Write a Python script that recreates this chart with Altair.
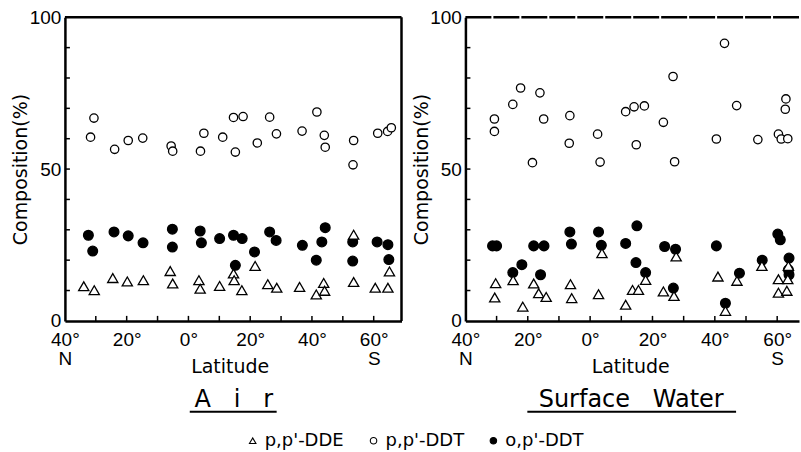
import altair as alt
import pandas as pd

compounds = ["p,p'-DDE", "p,p'-DDT", "o,p'-DDT"]
shapes = ["triangle-up", "circle", "circle"]
fills = ["white", "white", "black"]

# ---- Air ----
air_ddt_lat = [-31.7, -30.6, -23.9, -19.5, -14.8, -5.6, -5.1, 3.9, 5.0, 11.1, 14.6, 15.2, 17.7,
               22.3, 26.3, 28.5, 36.8, 41.6, 44.0, 44.3, 53.5, 53.3, 61.3, 64.5, 65.7]
air_ddt_val = [60.5, 66.8, 56.5, 59.4, 60.2, 57.6, 55.9, 55.9, 61.8, 60.5, 67.0, 55.6, 67.3,
               58.6, 67.1, 61.6, 62.5, 68.8, 61.1, 57.2, 59.4, 51.4, 61.8, 62.4, 63.6]
air_opddt_lat = [-32.4, -31.0, -24.1, -19.5, -14.7, -5.2, -5.2, 3.8, 4.2, 10.1, 14.6, 17.4, 15.2,
                 21.4, 26.3, 28.4, 36.9, 41.4, 43.2, 44.3, 53.2, 53.2, 61.1, 64.6, 64.9]
air_opddt_val = [28.2, 23.0, 29.3, 28.0, 25.7, 30.2, 24.3, 29.6, 25.7, 27.1, 28.2, 27.1, 18.3,
                 22.7, 29.3, 26.5, 24.9, 20.0, 26.0, 30.7, 26.0, 19.7, 26.0, 25.1, 20.2]
air_dde_lat = [-33.9, -30.5, -24.5, -19.8, -14.6, -5.9, -5.1, 3.4, 3.8, 10.1, 14.6, 14.8, 17.3,
               21.6, 25.7, 28.6, 36.0, 41.4, 43.8, 44.1, 53.5, 53.5, 60.5, 64.6, 65.1]
air_dde_val = [11.4, 10.1, 14.1, 13.0, 13.4, 16.4, 12.3, 13.4, 10.6, 11.5, 15.6, 13.4, 10.1,
               18.1, 12.1, 10.9, 11.2, 8.7, 12.5, 9.9, 28.4, 12.8, 10.9, 10.9, 16.3]

# ---- Surface Water ----
sw_ddt_lat = [-30.7, -30.7, -24.8, -22.3, -18.5, -16.1, -14.9, -6.5, -6.7, 2.4, 3.2, 11.4, 14.1,
              14.8, 17.4, 23.5, 26.6, 27.1, 40.5, 43.1, 47.0, 53.8, 60.4, 61.3, 63.4, 62.8, 62.6]
sw_ddt_val = [66.5, 62.4, 71.3, 76.7, 52.1, 75.1, 66.5, 67.6, 58.5, 61.5, 52.3, 68.9, 70.5,
              58.0, 70.8, 65.4, 80.5, 52.4, 59.9, 91.4, 70.9, 59.7, 61.5, 59.9, 60.0, 73.1, 69.7]
sw_opddt_lat = [-31.3, -30.0, -24.8, -21.9, -18.1, -15.9, -14.8, -6.5, -6.0, 2.7, 3.6, 11.4, 15.0,
                14.7, 17.8, 23.9, 27.4, 26.7, 40.5, 43.4, 47.9, 55.2, 60.2, 61.0, 63.8, 63.6, 63.8]
sw_opddt_val = [24.7, 24.7, 15.9, 18.5, 24.7, 15.2, 24.7, 29.3, 25.3, 29.3, 24.9, 25.5, 31.3,
                19.2, 15.9, 24.5, 23.6, 10.8, 24.7, 5.8, 15.7, 20.0, 28.6, 26.7, 20.7, 16.8, 15.2]
sw_dde_lat = [-30.3, -30.6, -24.7, -21.6, -18.1, -16.5, -14.1, -6.3, -5.9, 2.7, 3.8, 11.4, 13.6,
              15.5, 17.8, 23.5, 26.9, 27.6, 41.0, 43.4, 47.1, 55.1, 60.4, 60.4, 63.1, 63.4, 63.6]
sw_dde_val = [12.4, 7.7, 13.4, 4.7, 12.3, 9.1, 7.9, 12.1, 7.5, 8.8, 22.3, 5.3, 10.2,
              10.2, 13.5, 9.7, 8.2, 21.2, 14.6, 3.3, 13.2, 18.1, 13.7, 9.3, 9.9, 13.7, 18.1]

x_tick_values = [-40, -20, 0, 20, 40, 60]
x_minor = [-30, -20, -10, 0, 10, 20, 30, 40, 50, 60]
y_minor = [10, 20, 30, 40, 50, 60, 70, 80, 90]

H = 304
NUM_FONT = "Liberation Sans"
TXT_FONT = "DejaVu Sans"


def make_df(dde_lat, dde_val, ddt_lat, ddt_val, op_lat, op_val):
    rows = []
    for la, v in zip(dde_lat, dde_val):
        rows.append({"lat": la, "val": v, "compound": compounds[0]})
    for la, v in zip(ddt_lat, ddt_val):
        rows.append({"lat": la, "val": v, "compound": compounds[1]})
    for la, v in zip(op_lat, op_val):
        rows.append({"lat": la, "val": v, "compound": compounds[2]})
    return pd.DataFrame(rows)


legend = alt.Legend(orient="none", legendX=179, legendY=415, direction="horizontal",
                    title=None, labelFont=TXT_FONT, labelFontSize=18, labelColor="black",
                    symbolSize=42, symbolStrokeWidth=1.1, labelOffset=3, columnPadding=20,
                    symbolStrokeColor="black")
shape_enc = alt.Shape("compound:N", scale=alt.Scale(domain=compounds, range=shapes), legend=legend)
fill_enc = alt.Fill("compound:N", scale=alt.Scale(domain=compounds, range=fills), legend=legend)
stroke_enc = alt.Stroke("compound:N", scale=alt.Scale(domain=compounds, range=["black"] * 3), legend=legend)


def panel(df, width, xmax, title_text, title_x, ul_x, ul_x2, dashed_top, right_border):
    x = alt.X("lat:Q", scale=alt.Scale(domain=[-40, xmax], nice=False, zero=False),
              axis=alt.Axis(values=x_tick_values,
                            labelExpr="datum.value == -40 ? ['40°', 'N'] : datum.value == 60 ? ['60°', 'S'] : abs(datum.value) + '°'",
                            labelFont=NUM_FONT, labelFontSize=19, labelPadding=10, labelLineHeight=19,
                            labelFlush=False, labelOverlap=False,
                            title="Latitude", titleFont=TXT_FONT, titleFontSize=19,
                            titleFontWeight="normal", titleX=165, titleY=52,
                            titleBaseline="alphabetic", titleAlign="center"))
    y = alt.Y("val:Q", scale=alt.Scale(domain=[0, 100], nice=False, zero=False),
              axis=alt.Axis(values=[0, 50, 100], labelFont=NUM_FONT, labelFontSize=19,
                            labelPadding=4, labelFlush=False, labelOverlap=False,
                            title="Composition(%)", titleFont=TXT_FONT, titleFontSize=19,
                            titleFontWeight="normal", titleX=-44, titleY=152, titleAngle=270,
                            titleBaseline="middle", titleAlign="center"))
    base = alt.Chart(df)
    layers = []
    for comp, size in [(compounds[2], 95), (compounds[0], 105), (compounds[1], 70)]:
        layers.append(
            base.transform_filter(alt.datum.compound == comp)
            .mark_point(filled=True, size=size, strokeWidth=1.3, opacity=1)
            .encode(x=x, y=y, shape=shape_enc, fill=fill_enc, stroke=stroke_enc)
        )
    xt = alt.Chart(pd.DataFrame({"lat": x_minor})).mark_rule(color="black", strokeWidth=1.5).encode(
        x=x, y=alt.value(H), y2=alt.value(H - 5))
    yt = alt.Chart(pd.DataFrame({"val": y_minor})).mark_rule(color="black", strokeWidth=1.5).encode(
        y=y, x=alt.value(0), x2=alt.value(5))
    one = pd.DataFrame({"t": [title_text]})
    if dashed_top:
        top = alt.Chart(one).mark_rule(color="black", strokeWidth=2.5, strokeDash=[26, 2]).encode(
            x=alt.value(0), x2=alt.value(width), y=alt.value(0))
    else:
        top = alt.Chart(one).mark_rule(color="black", strokeWidth=2.5).encode(
            x=alt.value(0), x2=alt.value(width), y=alt.value(0))
    extra = [top]
    if right_border:
        extra.append(alt.Chart(one).mark_rule(color="black", strokeWidth=2.5).encode(
            x=alt.value(width), y=alt.value(0), y2=alt.value(H)))
    ttl = alt.Chart(one).mark_text(font=TXT_FONT, fontSize=24, color="black", baseline="alphabetic",
                                   align="center").encode(
        text="t:N", x=alt.value(title_x), y=alt.value(390))
    ul = alt.Chart(one).mark_rule(color="black", strokeWidth=2).encode(
        x=alt.value(ul_x), x2=alt.value(ul_x2), y=alt.value(395))
    return alt.layer(*layers, xt, yt, *extra, ttl, ul).properties(width=width, height=H)


air_df = make_df(air_dde_lat, air_dde_val, air_ddt_lat, air_ddt_val, air_opddt_lat, air_opddt_val)
sw_df = make_df(sw_dde_lat, sw_dde_val, sw_ddt_lat, sw_ddt_val, sw_opddt_lat, sw_opddt_val)

left = panel(air_df, 337, 69, "A\u00a0\u00a0\u00a0i\u00a0\u00a0\u00a0r", 169, 125, 212, False, True)
right = panel(sw_df, 334, 67, "Surface\u00a0\u00a0\u00a0Water", 166, 62, 271, True, False)

chart = alt.hconcat(left, right, spacing=64, bounds="flush").properties(
    padding={"left": 12, "top": 8, "right": 0, "bottom": 0}
).configure_view(stroke=None).configure_axis(
    grid=False, ticks=False, domainColor="black", domainWidth=2.5, labelColor="black",
    titleColor="black"
)

chart.save("out.html", embed_options={"renderer": "svg", "actions": False})
